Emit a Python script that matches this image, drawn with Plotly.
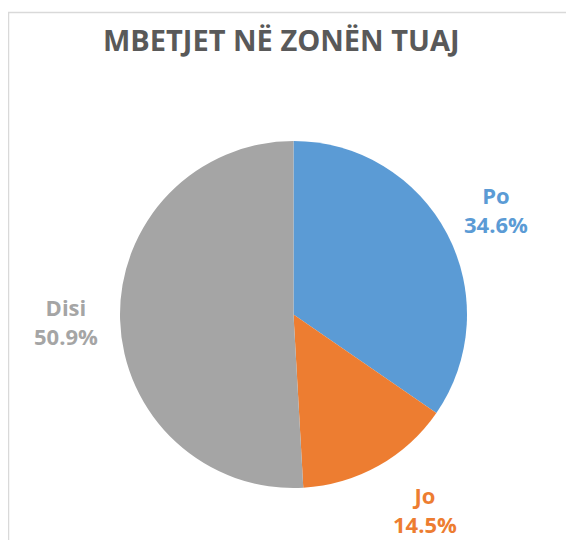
import math
import plotly.graph_objects as go

labels = ["Po", "Jo", "Disi"]
values = [34.6, 14.5, 50.9]
colors = ["#5B9BD5", "#ED7D31", "#A5A5A5"]
title_text = "MBETJET NË ZONËN TUAJ"

OFF = 8  # page body margin
W, H = 574 - OFF, 540 - OFF
cx, cy, r = 293.5 - OFF, 314.5 - OFF, 173.5  # pixel centre / radius of the pie

# small pixel nudges for label placement (layout only)
nudge = {"Po": (1, 1), "Jo": (20, -3), "Disi": (0, 1)}

fig = go.Figure()
fig.add_trace(go.Pie(
    labels=labels, values=values, sort=False, direction="clockwise",
    rotation=0, marker=dict(colors=colors, line=dict(width=0)),
    textinfo="none", hoverinfo="label+percent", showlegend=False,
    domain=dict(x=[(cx - r) / W, (cx + r) / W],
                y=[(H - cy - r) / H, (H - cy + r) / H]),
))

# labels placed along each slice's mid-angle, computed from the data
total = sum(values)
cum = 0.0
for lab, val, col in zip(labels, values, colors):
    mid = (cum + val / 2) / total * 2 * math.pi
    cum += val
    k = 1.31
    px = cx + k * r * math.sin(mid) + nudge[lab][0]
    py = cy - k * r * math.cos(mid) + nudge[lab][1]
    fig.add_annotation(
        x=px / W, y=1 - py / H, xref="paper", yref="paper",
        text=f"{lab}<br>{val:.1f}%", showarrow=False,
        font=dict(family="Open Sans", size=22, color=col, weight="bold"),
        align="center", xanchor="center", yanchor="middle",
    )

fig.add_annotation(
    x=(281.5 - OFF) / W, y=1 - (39 - OFF) / H, xref="paper", yref="paper",
    text=title_text, showarrow=False,
    font=dict(family="Open Sans", size=29, color="#595959", weight="bold"),
    xanchor="center", yanchor="middle",
)

# chart-area border (extends past right/bottom edges as in the reference)
fig.add_shape(type="rect", xref="paper", yref="paper",
              x0=0.5 / W, y0=-0.1, x1=1.1, y1=1 - (12.5 - OFF) / H,
              line=dict(color="#D9D9D9", width=1.5), layer="below")

fig.update_layout(
    width=W, height=H, margin=dict(l=0, r=0, t=0, b=0),
    paper_bgcolor="white", plot_bgcolor="white",
)
fig.write_html("out.html")
